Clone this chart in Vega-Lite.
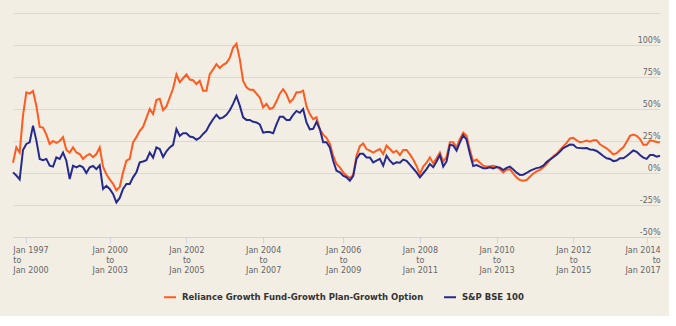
{
  "$schema": "https://vega.github.io/schema/vega-lite/v6.json",
  "autosize": "none",
  "width": 647,
  "height": 224,
  "padding": {"left": 13, "top": 13, "right": 9, "bottom": 79},
  "background": "#f2eee4",
  "config": {
    "view": {"stroke": null},
    "font": "DejaVu Sans"
  },
  "data": {
    "values": [
      {"d":"1996-09","fund":8,"bse":0.5},
      {"d":"1996-10","fund":20,"bse":-2},
      {"d":"1996-11","fund":16,"bse":-5},
      {"d":"1996-12","fund":45,"bse":18},
      {"d":"1997-01","fund":63,"bse":22.7},
      {"d":"1997-03","fund":62,"bse":24},
      {"d":"1997-04","fund":64,"bse":37},
      {"d":"1997-06","fund":52.6,"bse":25.5},
      {"d":"1997-07","fund":36,"bse":11},
      {"d":"1997-09","fund":35.5,"bse":10},
      {"d":"1997-10","fund":30,"bse":11},
      {"d":"1997-12","fund":22.7,"bse":5.7},
      {"d":"1998-01","fund":25,"bse":5},
      {"d":"1998-03","fund":23.5,"bse":12.2},
      {"d":"1998-04","fund":25,"bse":11},
      {"d":"1998-06","fund":28,"bse":16},
      {"d":"1998-07","fund":18,"bse":9.6},
      {"d":"1998-09","fund":16,"bse":-4.7},
      {"d":"1998-10","fund":20,"bse":5.7},
      {"d":"1998-12","fund":16,"bse":4.4},
      {"d":"1999-01","fund":14.8,"bse":5.7},
      {"d":"1999-03","fund":11,"bse":4.4},
      {"d":"1999-04","fund":13.5,"bse":0},
      {"d":"1999-06","fund":14.8,"bse":4.5},
      {"d":"1999-07","fund":12.4,"bse":5.5},
      {"d":"1999-09","fund":14.8,"bse":3},
      {"d":"1999-10","fund":20,"bse":6},
      {"d":"1999-11","fund":5,"bse":-12.5},
      {"d":"1999-12","fund":-1,"bse":-10},
      {"d":"2000-01","fund":-5,"bse":-12.5},
      {"d":"2000-02","fund":-8.5,"bse":-16.4},
      {"d":"2000-03","fund":-13.5,"bse":-23},
      {"d":"2000-04","fund":-11,"bse":-19.5},
      {"d":"2000-05","fund":0.5,"bse":-12.5},
      {"d":"2000-06","fund":9.6,"bse":-8.6},
      {"d":"2000-07","fund":11,"bse":-8.6},
      {"d":"2000-08","fund":24,"bse":-3.4},
      {"d":"2000-09","fund":28,"bse":0.5},
      {"d":"2000-10","fund":33,"bse":8.3},
      {"d":"2000-11","fund":36,"bse":9},
      {"d":"2000-12","fund":43,"bse":10},
      {"d":"2001-02","fund":50,"bse":16},
      {"d":"2001-03","fund":46,"bse":12},
      {"d":"2001-04","fund":57,"bse":20},
      {"d":"2001-05","fund":58,"bse":18.7},
      {"d":"2001-06","fund":49,"bse":12.5},
      {"d":"2001-07","fund":52,"bse":17},
      {"d":"2001-08","fund":59,"bse":20},
      {"d":"2001-09","fund":66,"bse":22},
      {"d":"2001-10","fund":77,"bse":34.4},
      {"d":"2001-11","fund":71,"bse":29},
      {"d":"2001-12","fund":74,"bse":31},
      {"d":"2002-01","fund":77,"bse":31},
      {"d":"2002-02","fund":73,"bse":28.5},
      {"d":"2002-03","fund":72.5,"bse":28},
      {"d":"2002-04","fund":69.5,"bse":26},
      {"d":"2002-05","fund":72,"bse":27.5},
      {"d":"2002-06","fund":64.3,"bse":30.5},
      {"d":"2002-07","fund":64.3,"bse":33},
      {"d":"2002-08","fund":77.3,"bse":38},
      {"d":"2002-09","fund":81,"bse":42},
      {"d":"2002-10","fund":85,"bse":45.5},
      {"d":"2002-11","fund":82,"bse":42.5},
      {"d":"2002-12","fund":84.5,"bse":43.5},
      {"d":"2003-02","fund":86,"bse":45.5},
      {"d":"2003-03","fund":90,"bse":49},
      {"d":"2003-04","fund":98,"bse":54},
      {"d":"2003-05","fund":101,"bse":60},
      {"d":"2003-06","fund":89,"bse":52.6},
      {"d":"2003-07","fund":72,"bse":43.5},
      {"d":"2003-08","fund":67,"bse":41.5},
      {"d":"2003-09","fund":65,"bse":41.5},
      {"d":"2003-10","fund":65,"bse":40},
      {"d":"2003-11","fund":62,"bse":39.5},
      {"d":"2003-12","fund":59,"bse":38},
      {"d":"2004-01","fund":51.3,"bse":31.5},
      {"d":"2004-02","fund":54,"bse":32},
      {"d":"2004-03","fund":50,"bse":32},
      {"d":"2004-04","fund":51,"bse":31},
      {"d":"2004-05","fund":56,"bse":38},
      {"d":"2004-06","fund":62,"bse":44},
      {"d":"2004-07","fund":65.5,"bse":44},
      {"d":"2004-08","fund":61.5,"bse":41.5},
      {"d":"2004-09","fund":55.2,"bse":41.5},
      {"d":"2004-10","fund":57.8,"bse":45.5},
      {"d":"2004-11","fund":63,"bse":48.5},
      {"d":"2004-12","fund":63,"bse":47},
      {"d":"2005-01","fund":64.3,"bse":50},
      {"d":"2005-02","fund":52,"bse":39.5},
      {"d":"2005-03","fund":46,"bse":34},
      {"d":"2005-04","fund":42,"bse":34.5},
      {"d":"2005-05","fund":43.5,"bse":40},
      {"d":"2005-06","fund":34,"bse":34.4},
      {"d":"2005-07","fund":30,"bse":24},
      {"d":"2005-08","fund":27.5,"bse":24},
      {"d":"2005-09","fund":23,"bse":20},
      {"d":"2005-10","fund":13.5,"bse":9.6},
      {"d":"2005-11","fund":7,"bse":1.8},
      {"d":"2005-12","fund":4.4,"bse":0.5},
      {"d":"2006-01","fund":0.5,"bse":-2},
      {"d":"2006-02","fund":-2,"bse":-3.4},
      {"d":"2006-03","fund":-4,"bse":-6},
      {"d":"2006-04","fund":-1.5,"bse":-2.5},
      {"d":"2006-05","fund":13.5,"bse":11},
      {"d":"2006-06","fund":21,"bse":15},
      {"d":"2006-07","fund":23,"bse":15},
      {"d":"2006-08","fund":18.7,"bse":12.2},
      {"d":"2006-09","fund":17.4,"bse":12.2},
      {"d":"2006-10","fund":16,"bse":8.3},
      {"d":"2006-11","fund":17.4,"bse":9.6},
      {"d":"2006-12","fund":18.7,"bse":11},
      {"d":"2007-02","fund":14.8,"bse":5.7},
      {"d":"2007-03","fund":21.4,"bse":13.5},
      {"d":"2007-04","fund":18.7,"bse":9.6},
      {"d":"2007-05","fund":16,"bse":7},
      {"d":"2007-06","fund":17.4,"bse":8.3},
      {"d":"2007-07","fund":14,"bse":8},
      {"d":"2007-08","fund":18,"bse":10.5},
      {"d":"2007-09","fund":18,"bse":9.5},
      {"d":"2007-10","fund":14.5,"bse":6.5},
      {"d":"2007-11","fund":10.5,"bse":3.5},
      {"d":"2007-12","fund":5.5,"bse":0.5},
      {"d":"2008-01","fund":-0.8,"bse":-3.4},
      {"d":"2008-02","fund":5,"bse":-0.2},
      {"d":"2008-03","fund":8,"bse":3},
      {"d":"2008-04","fund":12.2,"bse":7},
      {"d":"2008-05","fund":7.5,"bse":4.5},
      {"d":"2008-06","fund":11.5,"bse":9},
      {"d":"2008-07","fund":16,"bse":14},
      {"d":"2008-08","fund":9,"bse":5},
      {"d":"2008-09","fund":12.5,"bse":9},
      {"d":"2008-10","fund":24,"bse":22},
      {"d":"2008-11","fund":24,"bse":21.5},
      {"d":"2008-12","fund":20,"bse":17.5},
      {"d":"2009-02","fund":26.6,"bse":24},
      {"d":"2009-03","fund":31.5,"bse":29.5},
      {"d":"2009-04","fund":29,"bse":26},
      {"d":"2009-05","fund":18,"bse":15},
      {"d":"2009-06","fund":9,"bse":5.5},
      {"d":"2009-07","fund":10.5,"bse":6.2},
      {"d":"2009-08","fund":8,"bse":5},
      {"d":"2009-09","fund":5.7,"bse":3.7},
      {"d":"2009-10","fund":5,"bse":3.8},
      {"d":"2009-11","fund":5.2,"bse":4.4},
      {"d":"2009-12","fund":5.7,"bse":3.5},
      {"d":"2010-01","fund":5,"bse":4.6},
      {"d":"2010-02","fund":3,"bse":4.2},
      {"d":"2010-03","fund":0.5,"bse":2.3},
      {"d":"2010-04","fund":2.5,"bse":4},
      {"d":"2010-05","fund":3,"bse":5},
      {"d":"2010-06","fund":-0.5,"bse":2.8},
      {"d":"2010-07","fund":-3.5,"bse":0.3},
      {"d":"2010-08","fund":-5.5,"bse":-1.5},
      {"d":"2010-09","fund":-6,"bse":-1.3},
      {"d":"2010-10","fund":-5.5,"bse":0},
      {"d":"2010-11","fund":-3,"bse":1.7},
      {"d":"2010-12","fund":-0.5,"bse":2.8},
      {"d":"2011-02","fund":1.2,"bse":3.8},
      {"d":"2011-03","fund":2.5,"bse":4.4},
      {"d":"2011-04","fund":4.5,"bse":5.8},
      {"d":"2011-05","fund":7,"bse":8.5},
      {"d":"2011-06","fund":10.5,"bse":10.5},
      {"d":"2011-07","fund":13,"bse":12.3},
      {"d":"2011-08","fund":15,"bse":14.3},
      {"d":"2011-09","fund":18,"bse":16.7},
      {"d":"2011-10","fund":20.8,"bse":19.4},
      {"d":"2011-11","fund":23.5,"bse":20.8},
      {"d":"2011-12","fund":27,"bse":22.2},
      {"d":"2012-01","fund":27.5,"bse":22},
      {"d":"2012-02","fund":25.5,"bse":19.8},
      {"d":"2012-03","fund":24,"bse":19.5},
      {"d":"2012-04","fund":24.5,"bse":19.3},
      {"d":"2012-05","fund":25.3,"bse":19.5},
      {"d":"2012-06","fund":24.5,"bse":18.4},
      {"d":"2012-07","fund":25.5,"bse":18.2},
      {"d":"2012-08","fund":25.5,"bse":17.2},
      {"d":"2012-09","fund":22.5,"bse":15.3},
      {"d":"2012-10","fund":20.7,"bse":13.3},
      {"d":"2012-11","fund":19.3,"bse":11.5},
      {"d":"2012-12","fund":17,"bse":11},
      {"d":"2013-02","fund":14.5,"bse":9.3},
      {"d":"2013-03","fund":15.5,"bse":9.8},
      {"d":"2013-04","fund":18,"bse":11.6},
      {"d":"2013-05","fund":20,"bse":11.5},
      {"d":"2013-06","fund":24.5,"bse":13.3},
      {"d":"2013-07","fund":29,"bse":15.5},
      {"d":"2013-08","fund":30,"bse":17.6},
      {"d":"2013-09","fund":29,"bse":16.5},
      {"d":"2013-10","fund":26.5,"bse":14},
      {"d":"2013-11","fund":22,"bse":12},
      {"d":"2014-01","fund":22,"bse":11},
      {"d":"2014-02","fund":25.5,"bse":14},
      {"d":"2014-03","fund":25,"bse":14},
      {"d":"2014-04","fund":24.3,"bse":12.8},
      {"d":"2014-05","fund":24,"bse":13.5}
    ]
  },
  "transform": [
    {"fold": ["fund", "bse"], "as": ["series", "ret"]}
  ],
  "mark": {"type": "line", "strokeWidth": 2, "interpolate": "linear"},
  "encoding": {
    "x": {
      "field": "d",
      "type": "ordinal",
      "sort": "ascending",
      "scale": {"type": "point", "padding": 0},
      "axis": {
        "title": null,
        "values": ["1997-01","2000-01","2002-01","2004-01","2006-01","2008-01","2010-01","2012-01","2014-01"],
        "labelExpr": "['Jan ' + slice(datum.value,0,4), 'to', 'Jan ' + (toNumber(slice(datum.value,0,4)) + 3)]",
        "labelAngle": 0,
        "labelFont": "DejaVu Sans",
        "labelFontSize": 8,
        "labelColor": "#666666",
        "labelLineHeight": 10,
        "labelBaseline": "top",
        "labelPadding": 3,
        "labelFlush": 20,
        "labelFlushOffset": 13.5,
        "labelOverlap": false,
        "domainColor": "#ccd6eb",
        "domainWidth": 1,
        "tickColor": "#ccd6eb",
        "tickSize": 6,
        "grid": false
      }
    },
    "y": {
      "field": "ret",
      "type": "quantitative",
      "scale": {"domain": [-50, 125], "nice": false, "zero": false},
      "axis": {
        "title": null,
        "orient": "right",
        "values": [-50, -25, 0, 25, 50, 75, 100, 125],
        "labelExpr": "datum.value > 100 ? '' : datum.value + '%'",
        "labelAlign": "right",
        "labelBaseline": "alphabetic",
        "labelOffset": -3,
        "labelPadding": 0,
        "labelFont": "DejaVu Sans",
        "labelFontSize": 8,
        "labelColor": "#666666",
        "domain": false,
        "ticks": false,
        "tickSize": 0,
        "grid": true,
        "gridColor": "#dcd9d1",
        "gridWidth": 1
      }
    },
    "color": {
      "field": "series",
      "type": "nominal",
      "scale": {"domain": ["fund", "bse"], "range": ["#ff5a1f", "#262a8c"]},
      "legend": {
        "title": null,
        "orient": "none",
        "direction": "horizontal",
        "legendX": 150,
        "legendY": 277,
        "labelExpr": "datum.value == 'fund' ? 'Reliance Growth Fund-Growth Plan-Growth Option' : 'S&P BSE 100'",
        "labelFont": "DejaVu Sans",
        "labelFontWeight": "bold",
        "labelFontSize": 8.5,
        "labelColor": "#333333",
        "labelLimit": 0,
        "labelOffset": 5,
        "symbolType": "stroke",
        "symbolStrokeWidth": 2,
        "symbolSize": 144,
        "columnPadding": 16
      }
    }
  }
}
